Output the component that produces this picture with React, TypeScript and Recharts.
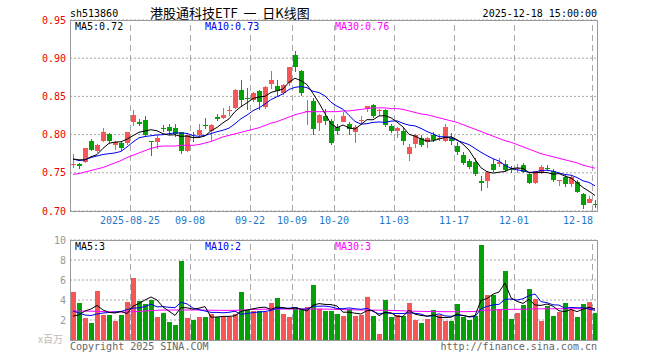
import React from "react";
import { ComposedChart, Bar, Line, XAxis, YAxis, CartesianGrid, ReferenceLine } from "recharts";

const days = [
  "08-11", "08-12", "08-13", "08-14", "08-15", "08-18", "08-19", "08-20", "08-21", "08-22",
  "08-25", "08-26", "08-27", "08-28", "08-29", "09-01", "09-02", "09-03", "09-04", "09-05",
  "09-08", "09-09", "09-10", "09-11", "09-12", "09-15", "09-16", "09-17", "09-18", "09-19",
  "09-22", "09-23", "09-24", "09-25", "09-26", "09-29", "09-30", "10-09", "10-10", "10-13",
  "10-14", "10-15", "10-16", "10-17", "10-20", "10-21", "10-22", "10-23", "10-24", "10-27",
  "10-28", "10-29", "10-30", "10-31", "11-03", "11-04", "11-05", "11-06", "11-07", "11-10",
  "11-11", "11-12", "11-13", "11-14", "11-17", "11-18", "11-19", "11-20", "11-21", "11-24",
  "11-25", "11-26", "11-27", "11-28", "12-01", "12-02", "12-03", "12-04", "12-05", "12-08",
  "12-09", "12-10", "12-11", "12-12", "12-15", "12-16", "12-17", "12-18",
];

const opens = [
  0.761, 0.761, 0.764, 0.791, 0.778, 0.792, 0.801, 0.787, 0.789, 0.789,
  0.817, 0.817, 0.819, 0.791, 0.790, 0.808, 0.810, 0.809, 0.803, 0.778,
  0.797, 0.799, 0.812, 0.805, 0.823, 0.822, 0.831, 0.835, 0.859, 0.848,
  0.845, 0.857, 0.836, 0.866, 0.864, 0.854, 0.867, 0.904, 0.883, 0.829,
  0.844, 0.815, 0.825, 0.818, 0.810, 0.817, 0.814, 0.803, 0.818, 0.833,
  0.839, 0.831, 0.832, 0.811, 0.805, 0.805, 0.775, 0.788, 0.796, 0.790,
  0.800, 0.795, 0.791, 0.796, 0.785, 0.773, 0.765, 0.764, 0.739, 0.739,
  0.761, 0.762, 0.761, 0.755, 0.755, 0.760, 0.748, 0.737, 0.750, 0.756,
  0.752, 0.740, 0.745, 0.735, 0.738, 0.722, 0.711, 0.709,
];
const highs = [
  0.774, 0.763, 0.783, 0.794, 0.788, 0.809, 0.802, 0.791, 0.790, 0.804,
  0.832, 0.821, 0.824, 0.792, 0.799, 0.812, 0.814, 0.814, 0.804, 0.800,
  0.804, 0.814, 0.822, 0.814, 0.827, 0.835, 0.838, 0.860, 0.872, 0.861,
  0.856, 0.858, 0.863, 0.883, 0.872, 0.866, 0.889, 0.909, 0.884, 0.845,
  0.848, 0.827, 0.833, 0.821, 0.814, 0.829, 0.816, 0.813, 0.824, 0.838,
  0.840, 0.833, 0.833, 0.814, 0.810, 0.810, 0.788, 0.801, 0.799, 0.797,
  0.804, 0.801, 0.814, 0.802, 0.790, 0.777, 0.768, 0.770, 0.746, 0.752,
  0.768, 0.770, 0.767, 0.759, 0.761, 0.763, 0.750, 0.753, 0.760, 0.760,
  0.755, 0.741, 0.747, 0.747, 0.741, 0.724, 0.719, 0.715,
];
const lows = [
  0.756, 0.755, 0.763, 0.779, 0.776, 0.790, 0.789, 0.780, 0.778, 0.787,
  0.811, 0.811, 0.797, 0.772, 0.781, 0.803, 0.799, 0.797, 0.775, 0.777,
  0.790, 0.797, 0.807, 0.792, 0.818, 0.820, 0.825, 0.834, 0.836, 0.832,
  0.843, 0.832, 0.834, 0.860, 0.851, 0.852, 0.864, 0.882, 0.851, 0.813,
  0.800, 0.805, 0.813, 0.786, 0.800, 0.816, 0.800, 0.789, 0.812, 0.829,
  0.822, 0.825, 0.810, 0.802, 0.796, 0.786, 0.766, 0.782, 0.784, 0.782,
  0.790, 0.791, 0.790, 0.787, 0.773, 0.760, 0.755, 0.746, 0.726, 0.730,
  0.751, 0.758, 0.751, 0.750, 0.750, 0.750, 0.735, 0.735, 0.749, 0.752,
  0.738, 0.733, 0.732, 0.732, 0.723, 0.703, 0.710, 0.704,
];
const closes = [
  0.762, 0.759, 0.782, 0.780, 0.786, 0.803, 0.792, 0.790, 0.782, 0.803,
  0.826, 0.814, 0.799, 0.790, 0.796, 0.807, 0.805, 0.801, 0.779, 0.799,
  0.796, 0.806, 0.811, 0.813, 0.821, 0.826, 0.832, 0.859, 0.845, 0.846,
  0.854, 0.843, 0.862, 0.871, 0.857, 0.865, 0.888, 0.888, 0.855, 0.831,
  0.807, 0.826, 0.818, 0.789, 0.805, 0.825, 0.807, 0.810, 0.819, 0.837,
  0.824, 0.832, 0.812, 0.805, 0.809, 0.792, 0.784, 0.800, 0.786, 0.796,
  0.793, 0.796, 0.810, 0.791, 0.777, 0.763, 0.758, 0.749, 0.736, 0.751,
  0.754, 0.764, 0.754, 0.754, 0.756, 0.751, 0.737, 0.752, 0.757, 0.755,
  0.740, 0.741, 0.735, 0.745, 0.725, 0.708, 0.716, 0.708,
];
const volumes = [
  4.8, 3.7, 2.2, 1.7, 4.9, 2.5, 2.5, 1.9, 2.5, 3.8,
  6.2, 3.9, 3.6, 4.0, 2.3, 2.7, 1.8, 1.5, 7.9, 2.2,
  2.0, 2.3, 2.3, 2.6, 2.3, 2.3, 2.3, 2.6, 4.8, 3.0,
  2.9, 2.9, 2.8, 3.7, 4.2, 2.6, 2.3, 3.3, 3.0, 3.3,
  5.5, 3.1, 2.9, 2.9, 2.6, 2.4, 3.1, 2.4, 2.5, 4.3,
  2.4, 0.6, 4.0, 2.3, 2.5, 2.4, 3.7, 2.0, 1.7, 2.1,
  3.0, 2.5, 1.9, 1.9, 3.6, 2.3, 2.0, 2.4, 9.5, 4.5,
  4.5, 3.1, 6.9, 2.1, 2.7, 3.5, 5.1, 4.1, 1.9, 3.4,
  2.4, 2.8, 3.7, 3.0, 2.3, 3.6, 3.8, 2.7,
];
// MA30 lines as they appear in the picture (their 30-day history is off-screen)
const priceMa30 = [
  0.748, 0.749, 0.751, 0.753, 0.755, 0.757, 0.760, 0.763, 0.766, 0.770,
  0.773, 0.776, 0.779, 0.782, 0.784, 0.785, 0.785, 0.785, 0.786, 0.786,
  0.786, 0.787, 0.789, 0.791, 0.794, 0.797, 0.799, 0.801, 0.803, 0.805,
  0.807, 0.809, 0.812, 0.815, 0.817, 0.820, 0.823, 0.826, 0.828, 0.830,
  0.830, 0.830, 0.830, 0.830, 0.830, 0.831, 0.831, 0.832, 0.833, 0.834,
  0.835, 0.835, 0.835, 0.834, 0.834, 0.833, 0.831, 0.829, 0.827, 0.826,
  0.824, 0.822, 0.820, 0.818, 0.816, 0.813, 0.810, 0.807, 0.804, 0.801,
  0.798, 0.795, 0.792, 0.790, 0.787, 0.784, 0.781, 0.778, 0.775, 0.773,
  0.771, 0.769, 0.767, 0.765, 0.763, 0.760, 0.758, 0.756,
];
const volMa30 = [
  2.90, 2.90, 2.89, 2.88, 2.86, 2.84, 2.82, 2.80, 2.79, 2.80,
  2.83, 2.86, 2.90, 2.94, 2.97, 2.99, 3.00, 3.00, 3.00, 3.00,
  3.00, 3.00, 2.99, 2.98, 2.97, 2.96, 2.96, 2.97, 2.99, 3.02,
  3.05, 3.07, 3.08, 3.08, 3.09, 3.09, 3.10, 3.10, 3.10, 3.10,
  3.10, 3.10, 3.09, 3.08, 3.06, 3.04, 3.02, 3.01, 3.00, 3.00,
  2.99, 2.98, 2.97, 2.96, 2.94, 2.92, 2.90, 2.88, 2.86, 2.85,
  2.84, 2.84, 2.83, 2.83, 2.83, 2.83, 2.84, 2.85, 2.95, 2.98,
  3.00, 3.02, 3.05, 3.06, 3.07, 3.08, 3.10, 3.11, 3.12, 3.12,
  3.12, 3.13, 3.13, 3.13, 3.14, 3.14, 3.14, 3.14,
];
// first MA points (their window starts before the chart)
const ma5Head = [0.768, 0.767, 0.767, 0.771];
const ma10Head = [0.768, 0.766, 0.767, 0.770, 0.772, 0.774, 0.775, 0.776, 0.778];
const volMa5Head = [2.4, 2.5, 2.9, 3.1];
const volMa10Head = [2.9, 2.7, 2.5, 2.45, 2.6, 2.7, 2.75, 2.8, 2.85];

const labelDays = ["08-25", "09-08", "09-22", "10-09", "10-20", "11-03", "11-17", "12-01", "12-18"];
const priceTicks = [0.7, 0.75, 0.8, 0.85, 0.9, 0.95];
const volTicks = [2, 4, 6, 8, 10];

const RED = "#f65656";
const GREEN = "#05a005";
const GRID = "#a8a8a8";
const MONO = "DejaVu Sans Mono, monospace";

function rolling(values: number[], n: number, head: number[]) {
  return values.map((_, i) => {
    if (i < n - 1) return head[i];
    const win = values.slice(i - n + 1, i + 1);
    return win.reduce((s, v) => s + v, 0) / n;
  });
}

const ma5 = rolling(closes, 5, ma5Head);
const ma10 = rolling(closes, 10, ma10Head);
const vma5 = rolling(volumes, 5, volMa5Head);
const vma10 = rolling(volumes, 10, volMa10Head);

const data = days.map((day, i) => ({
  day,
  range: [lows[i], highs[i]],
  open: opens[i],
  high: highs[i],
  low: lows[i],
  close: closes[i],
  vol: volumes[i],
  ma5: ma5[i],
  ma10: ma10[i],
  ma30: priceMa30[i],
  vma5: vma5[i],
  vma10: vma10[i],
  vma30: volMa30[i],
}));

function Candle(props: any) {
  const { x, y, height, payload } = props;
  if (x == null || y == null) return null;
  const { open, close, high, low } = payload;
  const color = close >= open ? RED : GREEN;
  const top = Math.min(y, y + height);
  const h = Math.abs(height);
  const toY = (v: number) => top + (high === low ? 0 : ((high - v) / (high - low)) * h);
  const bx = Math.floor(x);
  const yo = toY(open);
  const yc = toY(close);
  const bodyTop = Math.round(Math.min(yo, yc));
  const bodyH = Math.max(1, Math.round(Math.max(yo, yc)) - bodyTop);
  return (
    <g>
      <rect x={bx + 2} y={Math.round(top)} width={1} height={Math.max(1, Math.round(top + h) - Math.round(top))} fill={color} />
      <rect x={bx} y={bodyTop} width={5} height={bodyH} fill={color} />
    </g>
  );
}

function VolBar(props: any) {
  const { x, y, height, payload } = props;
  if (x == null || y == null) return null;
  const color = payload.close >= payload.open ? RED : GREEN;
  const t = Math.round(y);
  return <rect x={Math.floor(x)} y={t} width={5} height={Math.round(y + height) - t} fill={color} />;
}

function DashLine(props: any) {
  const { x1, y1, y2 } = props;
  if (x1 == null) return null;
  const xx = Math.round(x1) + 0.5;
  return <line x1={xx} x2={xx} y1={y1} y2={y2} stroke={GRID} strokeDasharray="6 4" />;
}

function DateTick(props: any) {
  const { x, y, payload } = props;
  const d = payload.value;
  const last = d === labelDays[labelDays.length - 1];
  const label = d === "08-25" ? "2025-08-25" : d;
  return (
    <text
      x={last ? 593 : x - 3}
      y={y}
      dy="0.71em"
      textAnchor={last ? "end" : "middle"}
      fill="#1f78c8"
      fontSize={10}
      fontFamily={MONO}
    >
      {label}
    </text>
  );
}

function dateGrid() {
  return labelDays.map((d) => (
    <ReferenceLine key={d} x={d} position="start" stroke={GRID} strokeDasharray="6 4" shape={DashLine} />
  ));
}

export default function App() {
  return (
    <div style={{ position: "absolute", left: 0, top: 0, width: 660, height: 360, background: "#fff" }}>
      <div style={{ position: "absolute", left: 0, top: 0 }}>
        <ComposedChart width={660} height={230} data={data} margin={{ top: 20, right: 62, bottom: 0, left: 0 }}>
          <CartesianGrid vertical={false} stroke={GRID} strokeDasharray="2 2" />
          <XAxis
            dataKey="day"
            ticks={labelDays}
            interval={0}
            height={19}
            axisLine={false}
            tickLine={false}
            tickSize={0}
            tickMargin={6}
            tick={DateTick}
          />
          <YAxis
            domain={[0.7, 0.95]}
            ticks={priceTicks}
            interval={0}
            width={70}
            axisLine={false}
            tickLine={false}
            tickSize={0}
            tickMargin={4}
            tickFormatter={(v: number) => v.toFixed(2)}
            tick={{ fill: "#ee0000", fontSize: 10, fontFamily: MONO }}
          />
          {dateGrid()}
          <Bar dataKey="range" barSize={5} shape={Candle} isAnimationActive={false} />
          <Line dataKey="ma30" stroke="#ff00ff" strokeWidth={1} dot={false} type="linear" isAnimationActive={false} />
          <Line dataKey="ma10" stroke="#0000ee" strokeWidth={1} dot={false} type="linear" isAnimationActive={false} />
          <Line dataKey="ma5" stroke="#000000" strokeWidth={1} dot={false} type="linear" isAnimationActive={false} />
        </ComposedChart>
      </div>
      <div style={{ position: "absolute", left: 0, top: 230 }}>
        <ComposedChart width={660} height={120} data={data} margin={{ top: 10, right: 62, bottom: 10, left: 0 }}>
          <CartesianGrid vertical={false} stroke={GRID} strokeDasharray="2 2" />
          <XAxis dataKey="day" hide />
          <YAxis
            domain={[0, 10]}
            ticks={volTicks}
            interval={0}
            width={70}
            axisLine={false}
            tickLine={false}
            tickSize={0}
            tickMargin={4}
            tick={{ fill: "#999999", fontSize: 10, fontFamily: MONO }}
          />
          {dateGrid()}
          <Bar dataKey="vol" barSize={5} shape={VolBar} isAnimationActive={false} />
          <Line dataKey="vma30" stroke="#ff00ff" strokeWidth={1} dot={false} type="linear" isAnimationActive={false} />
          <Line dataKey="vma10" stroke="#0000ee" strokeWidth={1} dot={false} type="linear" isAnimationActive={false} />
          <Line dataKey="vma5" stroke="#000000" strokeWidth={1} dot={false} type="linear" isAnimationActive={false} />
        </ComposedChart>
      </div>
      <svg width={660} height={360} style={{ position: "absolute", left: 0, top: 0, pointerEvents: "none" }}>
        <rect x={70.5} y={20.5} width={527} height={191} fill="none" stroke="#999" />
        <rect x={70.5} y={240.5} width={527} height={100} fill="none" stroke="#999" />
        <g fontFamily={MONO} fontSize={10}>
          <text x={70} y={17} fill="#000">sh513860</text>
          <text x={597} y={17} fill="#000" textAnchor="end">2025-12-18 15:00:00</text>
          <text x={75} y={30} fill="#000">MA5:0.72</text>
          <text x={205} y={30} fill="#0000ee">MA10:0.73</text>
          <text x={335} y={30} fill="#ff00ff">MA30:0.76</text>
          <text x={75} y={250} fill="#000">MA5:3</text>
          <text x={205} y={250} fill="#0000ee">MA10:2</text>
          <text x={335} y={250} fill="#ff00ff">MA30:3</text>
          <text x={70} y={350} fill="#666">Copyright 2025 SINA.COM</text>
          <text x={597} y={350} fill="#666" textAnchor="end">http://finance.sina.com.cn</text>
        </g>
        <text x={150} y={18} fontFamily="Noto Sans CJK SC" fontSize={13} fill="#000" style={{ whiteSpace: "pre" }}>
          {"港股通科技ETF  一  日K线图"}
        </text>
        <text x={38} y={343} fontFamily="Noto Sans CJK SC, DejaVu Sans" fontSize={10} fill="#bbb">x百万</text>
      </svg>
    </div>
  );
}
